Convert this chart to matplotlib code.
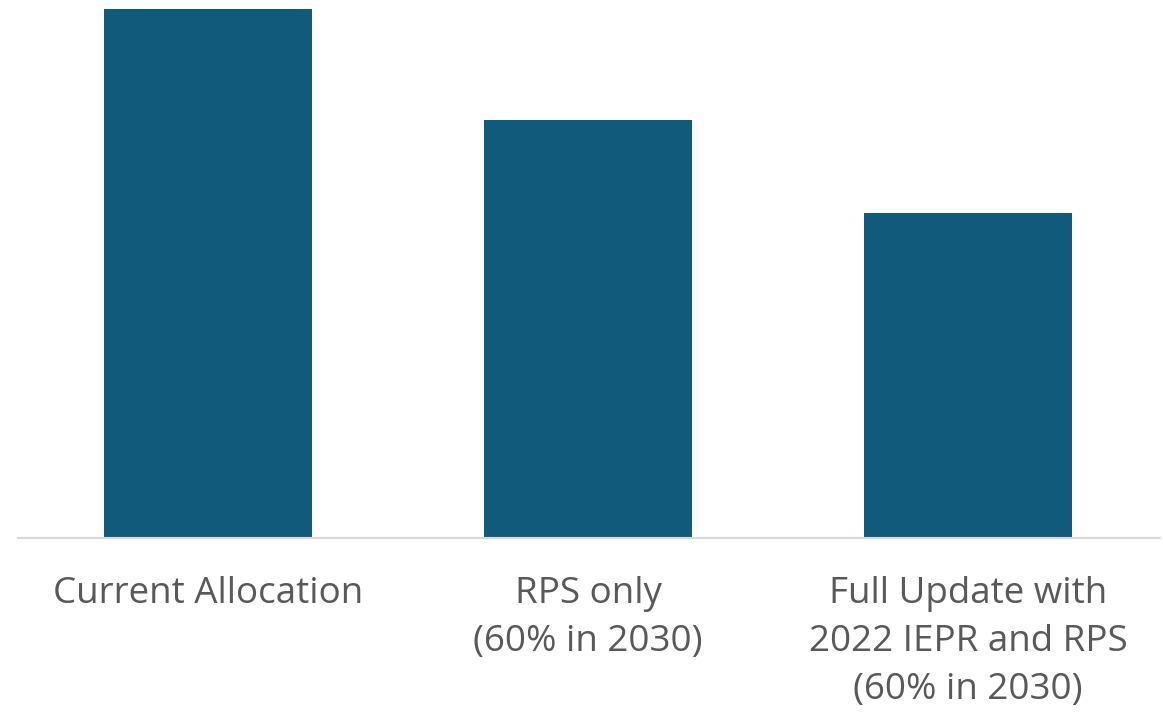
import matplotlib
matplotlib.use("Agg")
import matplotlib.pyplot as plt

# bar values (relative)
categories = ['Current Allocation', 'RPS only\n(60% in 2030)',
              'Full Update with\n2022 IEPR and RPS\n(60% in 2030)']
values = [100, 79, 61.4]

plt.rcParams['font.family'] = ['Open Sans', 'DejaVu Sans']

fig = plt.figure(figsize=(11.63, 7.17), dpi=100)
ax = fig.add_axes([18/1163, 1 - 538/717, 1142/1163, 529/717])

x = range(len(categories))
ax.bar(x, values, width=0.547, color='#115A7C')
ax.set_xlim(-0.5, 2.505)
ax.set_ylim(0, values[0])

ax.set_xticks(list(x))
ax.set_xticklabels(categories, fontsize=26.5, color='#595959')
for t in ax.get_xticklabels():
    t.set_linespacing(1.45)
ax.tick_params(axis='x', length=0, pad=27.5)
ax.set_yticks([])

for s in ['top', 'right', 'left']:
    ax.spines[s].set_visible(False)
ax.spines['bottom'].set_color('#D9D9D9')
ax.spines['bottom'].set_linewidth(1.5)

fig.savefig('out.png', dpi=100)
